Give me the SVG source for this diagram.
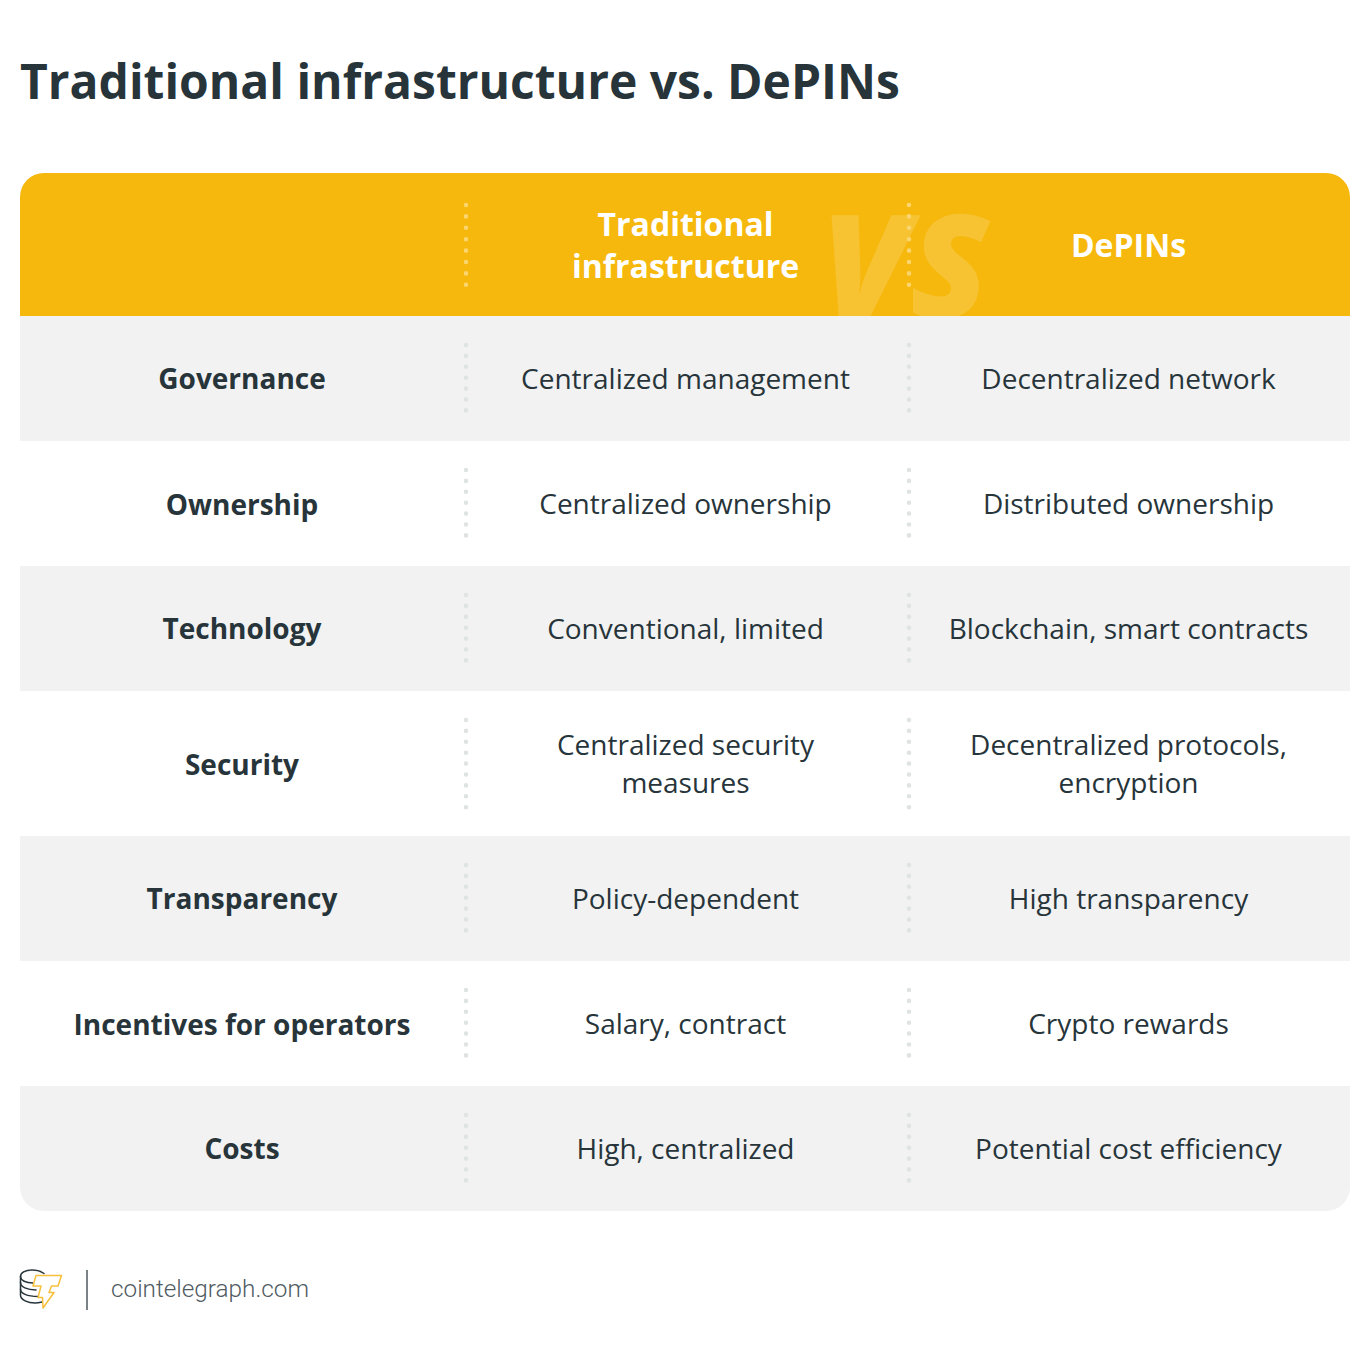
<svg xmlns="http://www.w3.org/2000/svg" width="1370" height="1370" viewBox="0 0 1370 1370">
<style>
text{font-family:"Open Sans","Noto Sans","DejaVu Sans",sans-serif;text-anchor:middle;fill:#27353b}
.title{font-size:48px;font-weight:700;text-anchor:start}
.h{font-size:32px;font-weight:700;fill:#fff}
.l{font-size:28px;font-weight:700}
.c{font-size:28px;font-weight:400}
.vs{font-size:144px;font-weight:800;font-style:italic;fill:#fff;fill-opacity:.16;text-anchor:start}
.web{font-family:Roboto,"Open Sans",sans-serif;font-size:24.3px;font-weight:300;fill:#4f5b62;text-anchor:start}
.dw{stroke:#fbd56f;stroke-width:4.6;stroke-linecap:round;stroke-dasharray:0 11.4;fill:none}
.dg{stroke:#dfe3e4;stroke-width:4.6;stroke-linecap:round;stroke-dasharray:0 10.9;fill:none}
.band{fill:#f2f2f2}
</style>
<defs><clipPath id="hc"><rect x="20" y="173" width="1330" height="143"/></clipPath></defs>
<rect width="1370" height="1370" fill="#fff"/>
<text class="title" x="20" y="99">Traditional infrastructure vs. DePINs</text>
<g id="table-bg">
<path class="band" d="M20 1086H1350V1187a24 24 0 0 1-24 24H44a24 24 0 0 1-24-24Z"/>
<rect class="band" x="20" y="316" width="1330" height="125"/>
<rect class="band" x="20" y="566" width="1330" height="125"/>
<rect class="band" x="20" y="836" width="1330" height="125"/>
</g>
<g id="header">
<path d="M44 173H1326a24 24 0 0 1 24 24V316H20V197a24 24 0 0 1 24-24Z" fill="#f6b80c"/>
<text class="vs" x="821" y="318" clip-path="url(#hc)">VS</text>
<text class="h" x="685.500" y="235.500">Traditional</text>
<text class="h" x="685.500" y="278">infrastructure</text>
<text class="h" x="1128.500" y="257">DePINs</text>
</g>
<g id="connectors">
<path class="dw" d="M466 205V286M909 205V286"/>
<path class="dg" d="M466 345V413M909 345V413M466 470V538M909 470V538M466 595V663M909 595V663M466 720V809M909 720V809M466 865V933M909 865V933M466 990V1058M909 990V1058M466 1115V1183M909 1115V1183"/>
</g>
<g id="row-governance"><text class="l" x="242" y="389">Governance</text><text class="c" x="685.500" y="389">Centralized management</text><text class="c" x="1128.500" y="389">Decentralized network</text></g>
<g id="row-ownership"><text class="l" x="242" y="514.500">Ownership</text><text class="c" x="685.500" y="514">Centralized ownership</text><text class="c" x="1128.500" y="514">Distributed ownership</text></g>
<g id="row-technology"><text class="l" x="242" y="639">Technology</text><text class="c" x="685.500" y="639">Conventional, limited</text><text class="c" x="1128.500" y="639">Blockchain, smart contracts</text></g>
<g id="row-security"><text class="l" x="242" y="774.500">Security</text><text class="c" x="685.500" y="755">Centralized security</text><text class="c" x="685.500" y="793">measures</text><text class="c" x="1128.500" y="755">Decentralized protocols,</text><text class="c" x="1128.500" y="793">encryption</text></g>
<g id="row-transparency"><text class="l" x="242" y="909">Transparency</text><text class="c" x="685.500" y="909">Policy-dependent</text><text class="c" x="1128.500" y="909">High transparency</text></g>
<g id="row-incentives"><text class="l" x="242" y="1034.500">Incentives for operators</text><text class="c" x="685.500" y="1034">Salary, contract</text><text class="c" x="1128.500" y="1034">Crypto rewards</text></g>
<g id="row-costs"><text class="l" x="242" y="1159">Costs</text><text class="c" x="685.500" y="1159">High, centralized</text><text class="c" x="1128.500" y="1159">Potential cost efficiency</text></g>
<g id="footer">
<g fill="none" stroke="#27353b" stroke-width="1.5" stroke-linecap="round">
<path d="M44 1273.500C40 1270.500 36 1270 32 1270C25 1270 20.500 1273 20.500 1276.500V1295C20.500 1300 28 1303 35 1303C38 1303 40 1302.500 42 1302"/>
<path d="M20.500 1276.500C20.500 1280.500 26 1283 33 1283M20.500 1282.500C20.500 1287 27 1290 36 1290M20.500 1289C20.500 1293.500 27 1296.500 38 1296.500"/>
</g>
<path d="M36 1275.500H61.500L58 1286H51.500L49 1292.500H54L43 1308L42.500 1297.500H38L41 1286H33Z" fill="#fff" stroke="#f6c03a" stroke-width="1.5" stroke-linejoin="round"/>
<rect x="86" y="1270" width="2" height="40" fill="#7b8387"/>
<text class="web" x="111" y="1297">cointelegraph.com</text>
</g>
</svg>
